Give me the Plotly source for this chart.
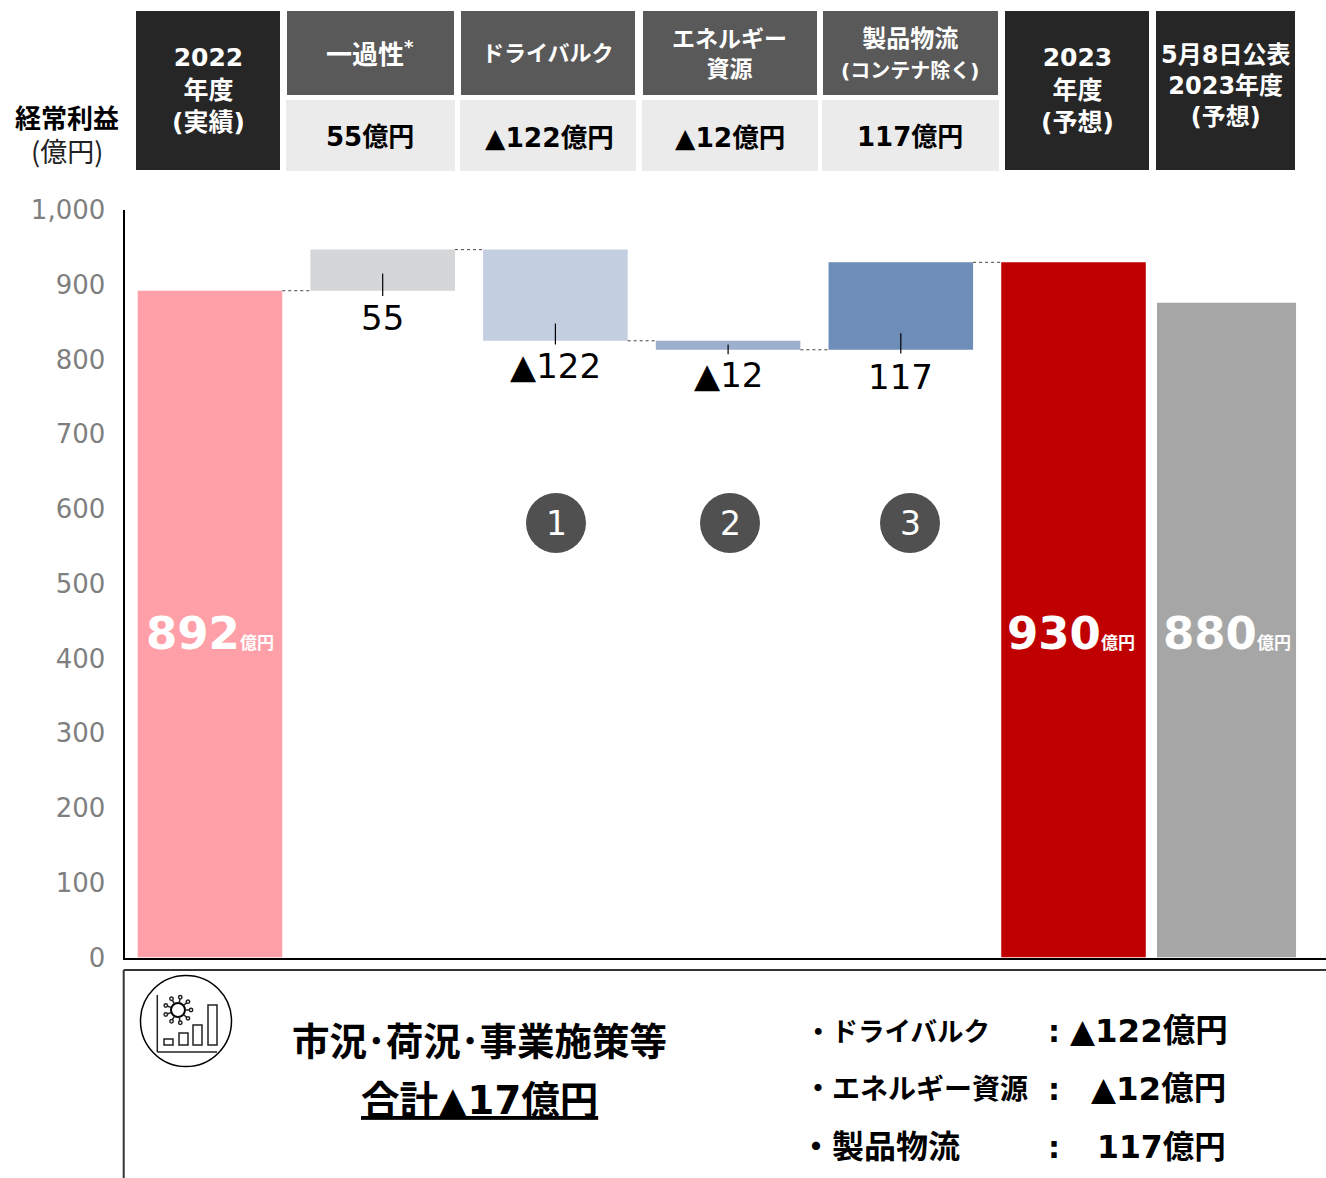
import math
import plotly.graph_objects as go

W, H = 1326, 1178
FONT = '"DejaVu Sans", "Noto Sans CJK JP", sans-serif'
CJK = '"Noto Sans CJK JP", sans-serif'

categories = ["2022年度(実績)", "一過性", "ドライバルク", "エネルギー資源", "製品物流(コンテナ除く)", "2023年度(予想)", "5月8日公表2023年度(予想)"]
bar_base = [0, 892, 825, 813, 813, 0, 0]
bar_height = [892, 55, 122, 12, 117, 930, 876]
bar_colors = ["#FF9FA8", "#D5D6D8", "#C3CEE0", "#9DAFCE", "#6F8DB9", "#C00000", "#A6A6A6"]
bar_pos = [0, 1, 2, 3, 4, 5, 5.886]
bar_width = [0.837, 0.837, 0.837, 0.837, 0.837, 0.837, 0.805]
connector_levels = [892, 947, 825, 813, 930]
delta_labels = ["55", "▲122", "▲12", "117"]
delta_label_y = [856, 791, 779, 776]
leader_top = [915, 848, 820, 835]
leader_bottom = [885, 820, 807, 808]
total_labels = ["892", "930", "880"]
tick_values = [0, 100, 200, 300, 400, 500, 600, 700, 800, 900, 1000]


def px(x):
    return x / W


def py(y):
    return 1 - y / H


shapes = []
annotations = []


def rect(x0, y0, x1, y1, fill):
    shapes.append(dict(type="rect", xref="paper", yref="paper", x0=px(x0), x1=px(x1),
                       y0=py(y0), y1=py(y1), fillcolor=fill, line=dict(width=0)))


def line(x0, y0, x1, y1, color="#000000", width=1.5):
    shapes.append(dict(type="line", xref="paper", yref="paper", x0=px(x0), x1=px(x1),
                       y0=py(y0), y1=py(y1), line=dict(color=color, width=width)))


def circle(cx, cy, r, fill="rgba(0,0,0,0)", color="#000000", width=1.5):
    shapes.append(dict(type="circle", xref="paper", yref="paper", x0=px(cx - r), x1=px(cx + r),
                       y0=py(cy + r), y1=py(cy - r), fillcolor=fill,
                       line=dict(color=color, width=width)))


def text(x, y, s, size, color="#000000", anchor="center", family=FONT):
    annotations.append(dict(xref="paper", yref="paper", x=px(x), y=py(y), text=s, showarrow=False,
                            xanchor=anchor, yanchor="middle", align="center",
                            font=dict(size=size, color=color, family=family)))


# header cells
DARK, MID, LIGHT = "#262626", "#595959", "#EBEBEB"
rect(136, 11, 280, 170, DARK)
rect(1005, 11, 1149, 170, DARK)
rect(1156, 11, 1295, 170, DARK)
cells = [(287, 454), (461, 635), (643, 817), (823, 998)]
for a, b in cells:
    rect(a, 11, b, 95, MID)
    rect(a - 1, 100, b + 1, 171, LIGHT)

text(67, 119, "<b>経常利益</b>", 26)
text(67, 151, "(億円)", 27, "#222222", family=CJK)

text(208, 90, "<b>2022<br>年度<br>(実績)</b>", 25, "#FFFFFF")
text(1077, 90, "<b>2023<br>年度<br>(予想)</b>", 25, "#FFFFFF")
text(1225, 86, "<b>5月8日公表<br>2023年度<br>(予想)</b>", 24, "#FFFFFF")
text(370, 53, "<b>一過性<sup>*</sup></b>", 26, "#FFFFFF")
text(548, 53, "<b>ドライバルク</b>", 22, "#FFFFFF")
text(729, 54, "<b>エネルギー<br>資源</b>", 23, "#FFFFFF")
text(910, 54, '<b>製品物流<br><span style="font-size:20px">(コンテナ除く)</span></b>', 24, "#FFFFFF")
text(370, 137, "<b>55億円</b>", 26)
text(549, 137, "<b>▲122億円</b>", 26.5)
text(730, 137, "<b>▲12億円</b>", 26.5)
text(910, 137, "<b>117億円</b>", 26)

# numbered circles
for cx, n in zip((556, 730, 910), ("1", "2", "3")):
    circle(cx, 523, 30, "#505050", "#505050", 0)
    text(cx, 523, n, 33, "#FFFFFF")

# lower panel
line(123.7, 970, 1326, 970, "#333333", 2)
line(123.7, 970, 123.7, 1178, "#333333", 2)
text(479, 1042, "<b>市況･荷況･事業施策等</b>", 37.5)
text(479, 1100, "<b><u>合計▲17億円</u></b>", 38.5)
for y, name, value, right, size, nx, vsize in (
    (1031, "・ドライバルク", "▲122億円", 1230, 26.5, 803, 32.5),
    (1089, "・エネルギー資源", "▲12億円", 1228, 28, 802, 32.5),
    (1147, "・製品物流", "117億円", 1228, 32, 798, 31.5),
):
    text(nx, y, f"<b>{name}</b>", size, anchor="left")
    text(1054, y, "<b>:</b>", 30)
    text(right, y, f"<b>{value}</b>", vsize, anchor="right")

# icon
circle(186, 1021, 45.5)
line(157.3, 995, 157.3, 1052, "#222222", 1.5)
line(157.3, 1052, 217, 1052, "#222222", 1.5)
for x0, x1, top in ((164, 173, 1039), (179, 188, 1033), (193, 202, 1025), (208, 217, 1005)):
    shapes.append(dict(type="rect", xref="paper", yref="paper", x0=px(x0), x1=px(x1),
                       y0=py(1045), y1=py(top), line=dict(color="#222222", width=1.5)))
circle(178, 1010, 7, width=2)
for i in range(9):
    a = 2 * math.pi * i / 9
    line(178 + 7 * math.cos(a), 1010 + 7 * math.sin(a), 178 + 11.5 * math.cos(a), 1010 + 11.5 * math.sin(a), "#222222", 1.5)
    circle(178 + 13 * math.cos(a), 1010 + 13 * math.sin(a), 1.7, "#FFFFFF", "#222222", 1.5)

# connectors, leaders and labels tied to the data axes
for i, level in enumerate(connector_levels):
    left = bar_pos[i] + bar_width[i] / 2
    right = bar_pos[i + 1] - bar_width[i + 1] / 2
    shapes.append(dict(type="line", xref="x", yref="y", x0=left, x1=right, y0=level, y1=level,
                       line=dict(color="#444444", width=1, dash="dot")))
for i in range(4):
    shapes.append(dict(type="line", xref="x", yref="y", x0=bar_pos[i + 1], x1=bar_pos[i + 1],
                       y0=leader_bottom[i], y1=leader_top[i],
                       line=dict(color="#000000", width=1.2)))
    annotations.append(dict(xref="x", yref="y", x=bar_pos[i + 1], y=delta_label_y[i],
                            text=delta_labels[i], showarrow=False, xanchor="center", yanchor="middle",
                            font=dict(size=34, color="#000000", family=FONT)))
for idx, s, shift in zip((0, 5, 6), total_labels, (0, -0.015, 0)):
    annotations.append(dict(xref="x", yref="y", x=bar_pos[idx] + shift, y=434,
                            text=f'<b>{s}<span style="font-size:17px">億円</span></b>',
                            showarrow=False, xanchor="center", yanchor="middle",
                            font=dict(size=45, color="#FFFFFF", family=FONT)))

fig = go.Figure(go.Bar(x=bar_pos, y=bar_height, base=bar_base, width=bar_width,
                       marker=dict(color=bar_colors, line=dict(width=0)),
                       customdata=categories, hovertemplate="%{customdata}: %{y}<extra></extra>"))
fig.update_layout(
    width=W, height=H, margin=dict(l=0, r=0, t=0, b=0), showlegend=False,
    paper_bgcolor="#FFFFFF", plot_bgcolor="#FFFFFF", shapes=shapes, annotations=annotations,
    xaxis=dict(domain=[124.5 / W, 1], range=[-0.495, 6.462], showgrid=False, zeroline=False, automargin=False,
               showticklabels=False, ticks="", showline=True, linecolor="#000000", linewidth=2),
    yaxis=dict(domain=[py(957.5), py(210)], range=[0, 1000], tickvals=tick_values, tickformat=",d",
               automargin=False, showgrid=False, zeroline=False, showline=True, linecolor="#000000", linewidth=2,
               ticks="", ticklabelstandoff=12, tickfont=dict(size=26, color="#7F7F7F", family=FONT)),
)
fig.write_html("out.html", config=dict(displayModeBar=False),
               post_script="document.body.style.margin='0';document.body.style.overflow='hidden';")
